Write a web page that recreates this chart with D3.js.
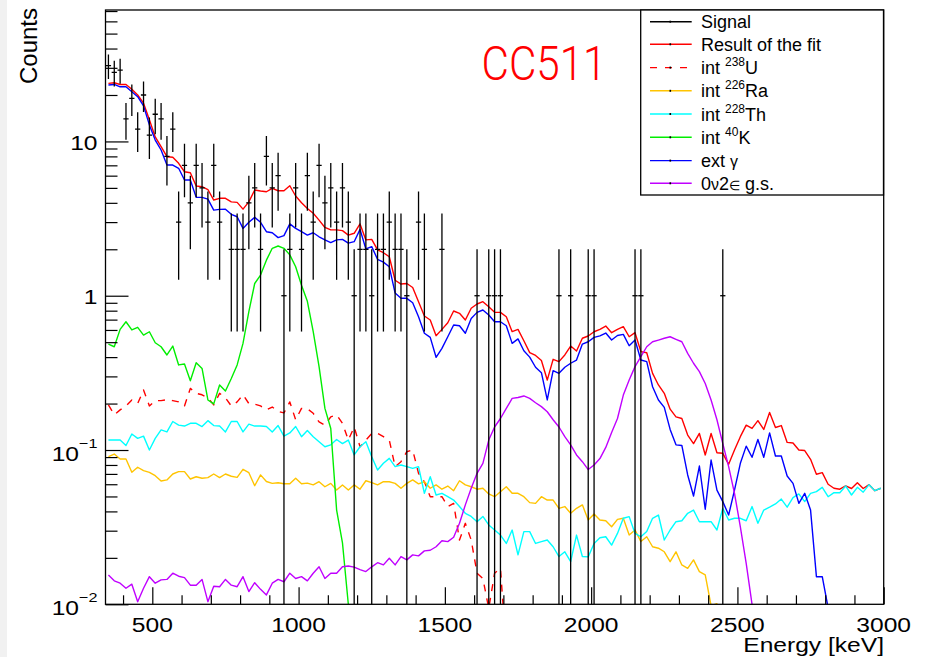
<!DOCTYPE html>
<html>
<head>
<meta charset="utf-8">
<script src="https://cdn.jsdelivr.net/npm/d3@7"></script>
<style>
  html, body { margin: 0; padding: 0; background: #fff; }
  svg { display: block; font-family: "Liberation Sans", Arial, Helvetica, sans-serif; }
</style>
</head>
<body>
<svg id="chart" width="925" height="657"></svg>
<script>
// Energy binning of the spectrum (keV): 133 bins of 20 keV from 340 to 3000
const binLow = 340, binWidth = 20, nBins = 133;

// Measured counts per bin
const signal = [
  31, 28, 29, 14, 19, 12, 20, 11, 15, 14,
  8, 12, 3, 7, 4, 7, 5, 3, 7, 3,
  0, 2, 2, 2, 4, 5, 2, 8, 5, 6,
  1, 2, 5, 2, 6, 3, 7, 4, 5, 3,
  5, 3, 1, 2, 2, 1, 2, 2, 3, 2,
  2, 1, 0, 3, 2, 0, 0, 2, 0, 0,
  0, 0, 0, 1, 0, 1, 1, 1, 0, 0,
  0, 0, 0, 0, 0, 0, 0, 1, 0, 1,
  0, 0, 1, 1, 0, 0, 0, 0, 0, 0,
  1, 1, 0, 0, 0, 0, 0, 0, 0, 0,
  0, 0, 0, 0, 0, 1, 0, 0, 0, 0,
  0, 0, 0, 0, 0, 0, 0, 0, 0, 0,
  0, 0, 0, 0, 0, 0, 0, 0, 0, 0,
  0, 0, 0
];

// Result of the fit (sum of all components)
const fitTotal = [
  23.8, 24.0, 23.4, 23.4, 21.8, 20.0, 17.7, 13.8, 10.7, 9.24,
  7.96, 7.89, 7.21, 6.36, 6.27, 5.14, 5.09, 4.88, 4.17, 4.28,
  4.28, 4.06, 4.03, 3.64, 4.06, 4.84, 4.77, 4.72, 4.97, 4.79,
  4.79, 5.16, 4.43, 4.01, 3.68, 3.42, 3.09, 2.77, 2.67, 2.67,
  2.64, 2.47, 2.54, 2.92, 2.30, 2.32, 1.98, 1.90, 1.79, 1.26,
  1.19, 1.20, 1.13, 0.915, 0.739, 0.696, 0.551, 0.605, 0.668, 0.796,
  0.769, 0.696, 0.829, 0.884, 0.915, 0.849, 0.780, 0.780, 0.731, 0.585,
  0.605, 0.511, 0.428, 0.410, 0.380, 0.284, 0.387, 0.374, 0.413, 0.472,
  0.438, 0.530, 0.548, 0.584, 0.605, 0.636, 0.576, 0.605, 0.630, 0.542,
  0.576, 0.434, 0.427, 0.314, 0.264, 0.233, 0.184, 0.164, 0.160, 0.125,
  0.110, 0.128, 0.0929, 0.128, 0.0960, 0.0952, 0.0808, 0.100, 0.122, 0.145,
  0.138, 0.155, 0.136, 0.175, 0.140, 0.144, 0.112, 0.111, 0.100, 0.0992,
  0.0870, 0.0696, 0.0713, 0.0600, 0.0565, 0.0557, 0.0585, 0.0563, 0.0614, 0.0563,
  0.0596, 0.0545, 0.0565
];

// Internal 238U contamination
const intU238 = [
  0.196, 0.169, 0.182, 0.193, 0.211, 0.200, 0.245, 0.193, 0.209, 0.209,
  0.212, 0.209, 0.205, 0.193, 0.251, 0.233, 0.228, 0.218, 0.196, 0.233,
  0.218, 0.193, 0.205, 0.228, 0.200, 0.198, 0.193, 0.182, 0.190, 0.178,
  0.174, 0.205, 0.157, 0.186, 0.185, 0.173, 0.152, 0.145, 0.164, 0.169,
  0.149, 0.116, 0.141, 0.105, 0.116, 0.128, 0.128, 0.122, 0.116, 0.078,
  0.084, 0.0975, 0.100, 0.0706, 0.0623, 0.0498, 0.0498, 0.0498, 0.0430, 0.0451,
  0.0261, 0.0335, 0.0261, 0.0159, 0.0147, 0.0094, 0.0159, 0.0171, 0.005
];

// Internal 226Ra contamination
const intRa226 = [
  0.0905, 0.0942, 0.0874, 0.0874, 0.0717, 0.0773, 0.0735, 0.0717, 0.0682, 0.0630,
  0.0640, 0.0699, 0.0724, 0.0724, 0.0649, 0.0671, 0.0656, 0.0662, 0.0699, 0.0662,
  0.0699, 0.0676, 0.0665, 0.0750, 0.0713, 0.0587, 0.0690, 0.0625, 0.0608, 0.0614,
  0.0604, 0.0604, 0.0656, 0.0604, 0.0610, 0.0594, 0.0623, 0.0578, 0.0608, 0.0550,
  0.0594, 0.0550, 0.0594, 0.0557, 0.0632, 0.0614, 0.0594, 0.0623, 0.0623, 0.0608,
  0.0565, 0.0608, 0.0640, 0.0604, 0.0623, 0.0565, 0.0594, 0.0557, 0.0584, 0.0545,
  0.0632, 0.0594, 0.0578, 0.0557, 0.0565, 0.0519, 0.0498, 0.0537, 0.0578, 0.0524,
  0.0524, 0.0498, 0.0456, 0.0451, 0.0498, 0.0474, 0.0474, 0.0419, 0.0430, 0.0389,
  0.0419, 0.0441, 0.0352, 0.0385, 0.0352, 0.0348, 0.0318, 0.0355, 0.0361, 0.0281,
  0.0303, 0.0255, 0.0274, 0.0236, 0.0231, 0.0219, 0.0189, 0.0219, 0.0180, 0.0171,
  0.0194, 0.0163, 0.0155, 0.0098, 0.0101, 0.006
];

// Internal 228Th contamination
const intTh228 = [
  0.116, 0.116, 0.116, 0.107, 0.127, 0.119, 0.123, 0.100, 0.119, 0.135,
  0.131, 0.153, 0.145, 0.143, 0.149, 0.149, 0.142, 0.155, 0.144, 0.143,
  0.131, 0.153, 0.153, 0.131, 0.147, 0.143, 0.143, 0.142, 0.131, 0.144,
  0.123, 0.129, 0.142, 0.122, 0.134, 0.122, 0.113, 0.105, 0.108, 0.117,
  0.110, 0.116, 0.0929, 0.105, 0.113, 0.0905, 0.0742, 0.082, 0.0883, 0.078,
  0.080, 0.078, 0.076, 0.078, 0.0524, 0.0671, 0.0511, 0.0524, 0.0498, 0.0474,
  0.0430, 0.0389, 0.0371, 0.0343, 0.0371, 0.0327, 0.0303, 0.0281, 0.0248, 0.0303,
  0.0209, 0.0296, 0.0296, 0.0248, 0.0255, 0.0261, 0.0236, 0.0204, 0.0219, 0.0189,
  0.0281, 0.0204, 0.0203, 0.0248, 0.0270, 0.0274, 0.0242, 0.0288, 0.0361, 0.0370,
  0.0288, 0.0274, 0.0296, 0.0361, 0.0379, 0.0261, 0.0303, 0.0343, 0.0348, 0.0389,
  0.0408, 0.0343, 0.0343, 0.0343, 0.0303, 0.0419, 0.0352, 0.0361, 0.0361, 0.0348,
  0.0430, 0.0335, 0.0408, 0.0426, 0.0447, 0.0481, 0.0426, 0.0491, 0.0519, 0.0463,
  0.0524, 0.0537, 0.0573, 0.0498, 0.0529, 0.0529, 0.0585, 0.0511, 0.0573, 0.0533,
  0.0596, 0.0545, 0.0565
];

// Internal 40K contamination
const intK40 = [
  0.486, 0.467, 0.605, 0.678, 0.600, 0.624, 0.556, 0.584, 0.496, 0.467,
  0.413, 0.472, 0.356, 0.361, 0.281, 0.368, 0.338, 0.211, 0.199, 0.264,
  0.241, 0.291, 0.356, 0.491, 0.788, 1.20, 1.36, 1.70, 2.03, 2.10,
  2.03, 1.84, 1.54, 1.17, 0.92, 0.585, 0.347, 0.186, 0.138, 0.0408,
  0.025, 0.0100, 0.004
];

// External gamma background
const extGamma = [
  23.2, 23.4, 22.6, 22.6, 21.0, 19.5, 17.0, 12.8, 10.2, 8.80,
  7.03, 7.03, 6.70, 5.62, 5.62, 4.34, 4.34, 4.23, 3.59, 3.63,
  3.64, 3.37, 3.25, 2.73, 2.99, 3.22, 2.99, 2.60, 2.56, 2.38,
  2.45, 2.92, 2.73, 2.60, 2.47, 2.56, 2.41, 2.30, 2.21, 2.30,
  2.32, 2.19, 2.24, 2.69, 2.01, 2.08, 1.72, 1.65, 1.54, 1.04,
  0.962, 0.962, 0.901, 0.731, 0.571, 0.537, 0.399, 0.456, 0.542, 0.646,
  0.639, 0.571, 0.713, 0.780, 0.808, 0.750, 0.678, 0.678, 0.639, 0.491,
  0.525, 0.440, 0.400, 0.344, 0.317, 0.211, 0.327, 0.314, 0.344, 0.365,
  0.383, 0.486, 0.503, 0.537, 0.549, 0.573, 0.516, 0.552, 0.562, 0.474,
  0.516, 0.383, 0.374, 0.257, 0.211, 0.189, 0.136, 0.108, 0.107, 0.0689,
  0.0503, 0.0787, 0.0413, 0.0861, 0.0550, 0.0463, 0.0379, 0.0550, 0.0820, 0.106,
  0.0897, 0.117, 0.0897, 0.129, 0.0914, 0.0914, 0.0678, 0.0608, 0.0451, 0.0524,
  0.0408, 0.0151, 0.0151, 0.0095, 0.004
];

// 0v2EC to the ground state
const zeroNuEC = [
  0.0155, 0.0142, 0.0137, 0.0127, 0.0135, 0.0104, 0.0127, 0.0151, 0.0137, 0.0144,
  0.0145, 0.0159, 0.0152, 0.0149, 0.0133, 0.0133, 0.0145, 0.0104, 0.0131, 0.0130,
  0.0145, 0.0133, 0.0130, 0.0151, 0.0121, 0.0138, 0.0125, 0.0115, 0.0137, 0.0145,
  0.0140, 0.0159, 0.0147, 0.0151, 0.0142, 0.0159, 0.0175, 0.0147, 0.0159, 0.0159,
  0.0175, 0.0177, 0.0174, 0.0168, 0.0163, 0.0175, 0.0186, 0.0180, 0.0199, 0.0180,
  0.0204, 0.0194, 0.0209, 0.0206, 0.0222, 0.0224, 0.0236, 0.0258, 0.0255, 0.0272,
  0.0335, 0.0441, 0.0565, 0.0706, 0.0820, 0.116, 0.141, 0.160, 0.186, 0.216,
  0.219, 0.224, 0.216, 0.2025, 0.191, 0.177, 0.157, 0.141, 0.122, 0.108,
  0.0929, 0.084, 0.0747, 0.080, 0.088, 0.104, 0.130, 0.160, 0.227, 0.284,
  0.347, 0.403, 0.467, 0.503, 0.516, 0.530, 0.542, 0.522, 0.503, 0.423,
  0.365, 0.322, 0.270, 0.211, 0.157, 0.110, 0.078, 0.0524, 0.0318, 0.0184,
  0.0100, 0.005
];

// Axis ticks
const xMajorTicks = [500, 1000, 1500, 2000, 2500, 3000];
const xMinorTicks = [400, 600, 700, 800, 900, 1100, 1200, 1300, 1400, 1600, 1700, 1800, 1900,
                     2100, 2200, 2300, 2400, 2600, 2700, 2800, 2900];
const yMajorTicks = [0.01, 0.1, 1, 10];
const yTickLabels = [["10", "\u22122"], ["10", "\u22121"], ["1", null], ["10", null]];
const yMinorTicks = [2, 3, 4, 5, 6, 7, 8, 9].flatMap(m => [0.01, 0.1, 1, 10].map(d => m * d));

// Plot geometry and scales
const plot = { left: 105.5, right: 883.7, top: 10, bottom: 604.3 };
const x = d3.scaleLinear().domain([340, 3000]).range([plot.left, plot.right]);
const y = d3.scaleLog().domain([0.01, 71.1]).range([plot.bottom, plot.top]);

const svg = d3.select("#chart");

// Light canvas edge on the left
svg.append("rect").attr("x", 0).attr("y", 0).attr("width", 7).attr("height", 657).attr("fill", "#f1f1f1");

svg.append("defs").append("clipPath").attr("id", "plotClip")
  .append("rect")
  .attr("x", plot.left).attr("y", plot.top)
  .attr("width", plot.right - plot.left).attr("height", plot.bottom - plot.top);

const centers = d3.range(nBins).map(i => binLow + binWidth * (i + 0.5));
const toPoints = vals => vals.map((v, i) => ({ e: centers[i], v }));

const line = d3.line()
  .defined(d => d.v != null && d.v > 0)
  .x(d => x(d.e))
  .y(d => y(d.v));

const plotArea = svg.append("g").attr("clip-path", "url(#plotClip)");

const series = [
  { key: "fit",  vals: fitTotal, color: "#ff0000", dash: null },
  { key: "U",    vals: intU238,  color: "#ff0000", dash: "7,7" },
  { key: "Ra",   vals: intRa226, color: "#ffc400", dash: null },
  { key: "Th",   vals: intTh228, color: "#00ffff", dash: null },
  { key: "K",    vals: intK40,   color: "#00ee00", dash: null },
  { key: "ext",  vals: extGamma, color: "#0000ff", dash: null },
  { key: "0nu",  vals: zeroNuEC, color: "#c000ff", dash: null }
];

series.forEach(s => {
  plotArea.append("path")
    .datum(toPoints(s.vals))
    .attr("fill", "none")
    .attr("stroke", s.color)
    .attr("stroke-width", 1.4)
    .attr("stroke-linejoin", "round")
    .attr("stroke-dasharray", s.dash)
    .attr("d", line);
});

// Signal: Poisson error bars with bin-width horizontal bars
const sigPts = signal.map((c, i) => ({ c, lo: binLow + binWidth * i, hi: binLow + binWidth * (i + 1), e: centers[i] }))
  .filter(d => d.c > 0);
const sigG = plotArea.append("g").attr("stroke", "#000").attr("stroke-width", 1.3);
sigG.selectAll("line.v").data(sigPts).join("line")
  .attr("class", "v")
  .attr("x1", d => x(d.e)).attr("x2", d => x(d.e))
  .attr("y1", d => { const lo = d.c - Math.sqrt(d.c); return lo > 0 ? y(lo) : plot.bottom + 2; })
  .attr("y2", d => y(d.c + Math.sqrt(d.c)));
sigG.selectAll("line.h").data(sigPts).join("line")
  .attr("class", "h")
  .attr("x1", d => x(d.lo) + 0.3).attr("x2", d => x(d.hi) - 0.3)
  .attr("y1", d => y(d.c)).attr("y2", d => y(d.c));

// Axes ticks
const axisG = svg.append("g").attr("stroke-width", 1);
const xMajor = axisG.append("g").attr("transform", `translate(0,${plot.bottom})`)
  .call(d3.axisBottom(x).tickValues(xMajorTicks).tickSizeInner(-17).tickSizeOuter(0).tickFormat(""));
const xMinor = axisG.append("g").attr("transform", `translate(0,${plot.bottom})`)
  .call(d3.axisBottom(x).tickValues(xMinorTicks).tickSizeInner(-9).tickSizeOuter(0).tickFormat(""));
const yMajor = axisG.append("g").attr("transform", `translate(${plot.left},0)`)
  .call(d3.axisLeft(y).tickValues(yMajorTicks).tickSizeInner(-23).tickSizeOuter(0).tickFormat(""));
const yMinor = axisG.append("g").attr("transform", `translate(${plot.left},0)`)
  .call(d3.axisLeft(y).tickValues(yMinorTicks.filter(v => v <= 71.1)).tickSizeInner(-12).tickSizeOuter(0).tickFormat(""));
[xMajor, xMinor, yMajor, yMinor].forEach(g => {
  g.select(".domain").remove();
  g.selectAll(".tick line").attr("stroke", "#000").attr("stroke-width", 1.2);
});

// Frame
svg.append("rect")
  .attr("x", plot.left).attr("y", plot.top)
  .attr("width", plot.right - plot.left).attr("height", plot.bottom - plot.top)
  .attr("fill", "none").attr("stroke", "#000").attr("stroke-width", 1.3);

// Axis labels (horizontally widened sans, as in the ROOT output)
const axisFont = 20.5;
xMajorTicks.forEach(v => {
  svg.append("text")
    .attr("transform", `translate(${x(v)},631.5) scale(1.2,1)`)
    .attr("text-anchor", "middle")
    .attr("font-size", axisFont)
    .attr("fill", "#000")
    .text(v);
});

yMajorTicks.forEach((v, k) => {
  const [base, sup] = yTickLabels[k];
  const t = svg.append("text")
    .attr("transform", `translate(97.5,${y(v) + (sup ? 10.5 : 8.5)}) scale(1.2,1)`)
    .attr("text-anchor", "end")
    .attr("font-size", axisFont)
    .attr("fill", "#000");
  t.append("tspan").text(base);
  if (sup) t.append("tspan").attr("dy", -12.5).attr("font-size", 13.5).text(sup);
});

svg.append("text")
  .attr("transform", `translate(884,651.5) scale(1.2,1)`)
  .attr("text-anchor", "end")
  .attr("font-size", axisFont)
  .attr("fill", "#000")
  .text("Energy [keV]");

svg.append("text")
  .attr("transform", "translate(36.5,8) rotate(-90)")
  .attr("text-anchor", "end")
  .attr("font-size", 24)
  .attr("fill", "#000")
  .text("Counts");

// Detector label
svg.append("text")
  .attr("x", 481.5).attr("y", 80)
  .attr("font-family", "Roboto, 'Liberation Sans', sans-serif")
  .attr("font-weight", 300)
  .attr("font-size", 48)
  .attr("fill", "#ff0000")
  .attr("textLength", 125)
  .attr("lengthAdjust", "spacingAndGlyphs")
  .text("CC511");

// Legend
const legend = { x0: 640.7, y0: 10, x1: 883.5, y1: 195 };
const legendRows = [21.7, 44.3, 67.6, 90.8, 114, 137.3, 160.6, 183.3];
const legendItems = [
  { color: "#000000", dash: null, parts: [{ t: "Signal" }] },
  { color: "#ff0000", dash: null, parts: [{ t: "Result of the fit" }] },
  { color: "#ff0000", dash: "7,8", parts: [{ t: "int " }, { t: "238", sup: true }, { t: "U" }] },
  { color: "#ffc400", dash: null, parts: [{ t: "int " }, { t: "226", sup: true }, { t: "Ra" }] },
  { color: "#00ffff", dash: null, parts: [{ t: "int " }, { t: "228", sup: true }, { t: "Th" }] },
  { color: "#00ee00", dash: null, parts: [{ t: "int " }, { t: "40", sup: true }, { t: "K" }] },
  { color: "#0000ff", dash: null, parts: [{ t: "ext " }, { t: "\u03b3", size: 16 }] },
  { color: "#c000ff", dash: null, parts: [{ t: "0" }, { t: "\u03bd", size: 16 }, { t: "2" }, { t: "\u2208", size: 13 }, { t: " g.s." }] }
];

svg.append("rect")
  .attr("x", legend.x0).attr("y", legend.y0)
  .attr("width", legend.x1 - legend.x0).attr("height", legend.y1 - legend.y0)
  .attr("fill", "#fff").attr("stroke", "#000").attr("stroke-width", 1.3);

legendItems.forEach((item, k) => {
  const ry = legendRows[k];
  svg.append("line")
    .attr("x1", 650).attr("x2", 691.7).attr("y1", ry).attr("y2", ry)
    .attr("stroke", item.color).attr("stroke-width", 1.4)
    .attr("stroke-dasharray", item.dash);
  svg.append("rect")
    .attr("x", 669.5).attr("y", ry - 1).attr("width", 1.6).attr("height", 2)
    .attr("fill", "#000");
  const t = svg.append("text")
    .attr("x", 701).attr("y", ry + 6.6)
    .attr("font-size", 18).attr("fill", "#000");
  let raised = false;
  item.parts.forEach(p => {
    const ts = t.append("tspan").text(p.t);
    if (p.sup) { ts.attr("font-size", 12).attr("dy", -8); raised = true; }
    else {
      if (raised) { ts.attr("dy", 8); raised = false; }
      if (p.size) ts.attr("font-size", p.size);
    }
  });
});
</script>
</body>
</html>
